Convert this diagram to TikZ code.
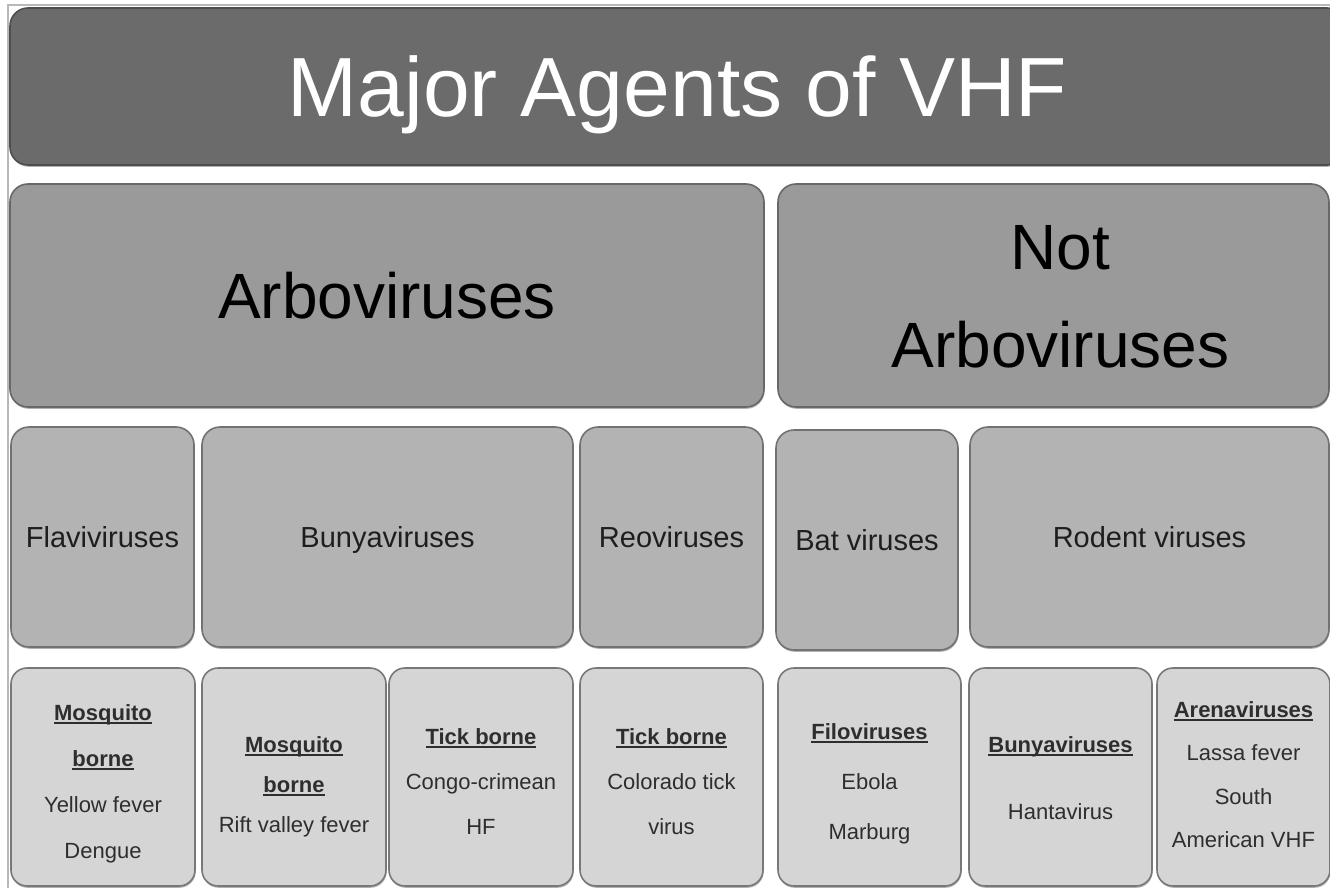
\documentclass[tikz,border=0pt]{standalone}
\usepackage{fontspec}
\setmainfont{Liberation Sans}
\usetikzlibrary{shadows}
\definecolor{cTitle}{HTML}{6B6B6B}
\definecolor{cTitleB}{HTML}{4E4E4E}
\definecolor{cGroup}{HTML}{9A9A9A}
\definecolor{cGroupB}{HTML}{686868}
\definecolor{cFam}{HTML}{B3B3B3}
\definecolor{cFamB}{HTML}{727272}
\definecolor{cFamT}{HTML}{1E1E1E}
\definecolor{cLeaf}{HTML}{D5D5D5}
\definecolor{cLeafB}{HTML}{787878}
\definecolor{cLeafT}{HTML}{2E2E2E}
\definecolor{cFrame}{HTML}{B8B8B8}
\newsavebox\ulbox
\newcommand\myul[1]{\sbox\ulbox{#1}\rlap{\rule[-3.5pt]{\wd\ulbox}{2pt}}\usebox\ulbox}
\newcommand\boxat[7]{\node[#2, minimum width={#5-#3}, minimum height={#6-#4}] (#1) at ({(#3+#5)/2},{(#4+#6)/2}) {#7};}
\begin{document}
\begin{tikzpicture}[x=1pt,y=-1pt,
  base/.style={draw, rounded corners=18pt, line width=1.6pt, inner sep=0pt, align=center,
    drop shadow={shadow xshift=0.6pt, shadow yshift=-1.8pt, opacity=.3, fill=black}},
  titlebox/.style={base, fill=cTitle, draw=cTitleB, text=white,
    font=\fontsize{84}{90}\selectfont, text height=60pt, text depth=0pt},
  groupbox/.style={base, fill=cGroup, draw=cGroupB, text=black,
    font=\fontsize{64}{98}\selectfont, text height=46pt, text depth=0pt},
  familybox/.style={base, fill=cFam, draw=cFamB, text=cFamT,
    font=\fontsize{29}{32}\selectfont, text height=21pt, text depth=0pt},
  leafbox/.style={base, fill=cLeaf, draw=cLeafB, text=cLeafT, rounded corners=16pt, text depth=0pt},
]
\useasboundingbox (0,0) rectangle (1330,888);
\clip (0,0) rectangle (1330,888);
\fill[white] (0,0) rectangle (1330,888);
\draw[line width=1.2pt, draw=cFrame] (8,890) -- (8,5) -- (1332,5);

% title
\boxat{title}{titlebox}{10}{8}{1345}{165}{Major Agents of VHF}

% groups
\boxat{arbo}{groupbox}{10}{184}{764}{407}{Arboviruses}
\boxat{notarbo}{groupbox, text height=144pt}{778}{184}{1329}{407}{\hspace*{14pt}Not\\\hspace*{14pt}Arboviruses}

% families
\boxat{flavi}{familybox}{11}{427}{194}{647}{Flaviviruses}
\boxat{bunya}{familybox}{202}{427}{573}{647}{Bunyaviruses}
\boxat{reo}{familybox}{580}{427}{763}{647}{Reoviruses}
\boxat{bat}{familybox}{776}{430}{958}{650}{Bat viruses}
\boxat{rodent}{familybox}{970}{427}{1329}{647}{Rodent viruses}

% leaves
\boxat{leafA}{leafbox, font=\fontsize{22}{46}\selectfont, text height=163pt}{11}{668}{195}{886}{\myul{\textbf{Mosquito}}\\\myul{\textbf{borne}}\\Yellow fever\\Dengue}
\boxat{leafB}{leafbox, font=\fontsize{22}{40}\selectfont, text height=111pt}{202}{668}{386}{886}{\myul{\textbf{Mosquito}}\\\myul{\textbf{borne}}\\Rift valley fever}
\boxat{leafC}{leafbox, font=\fontsize{22}{45}\selectfont, text height=115pt}{389}{668}{573}{886}{\myul{\textbf{Tick borne}}\\Congo-crimean\\HF}
\boxat{leafD}{leafbox, font=\fontsize{22}{45}\selectfont, text height=115pt}{580}{668}{763}{886}{\myul{\textbf{Tick borne}}\\Colorado tick\\virus}
\boxat{leafE}{leafbox, font=\fontsize{22}{50}\selectfont, text height=125pt}{778}{668}{961}{886}{\myul{\textbf{Filoviruses}}\\Ebola\\Marburg}
\boxat{leafF}{leafbox, font=\fontsize{22}{67}\selectfont, text height=85pt}{969}{668}{1152}{886}{\myul{\textbf{Bunyaviruses}}\\Hantavirus}
\boxat{leafG}{leafbox, font=\fontsize{22}{43.3}\selectfont, text height=141pt}{1157}{668}{1330}{886}{\myul{\textbf{Arenaviruses}}\\Lassa fever\\South\\American VHF}
\end{tikzpicture}
\end{document}
